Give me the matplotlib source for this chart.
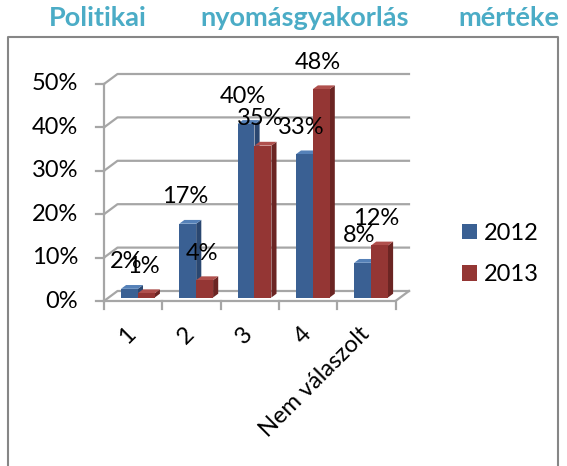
import matplotlib.pyplot as plt
from matplotlib.patches import Polygon, Rectangle

categories = ['1', '2', '3', '4', 'Nem válaszolt']
values_2012 = [2, 17, 40, 33, 8]
values_2013 = [1, 4, 35, 48, 12]
series_names = ['2012', '2013']
yticks = [0, 10, 20, 30, 40, 50]

plt.rcParams['font.family'] = ['Lato', 'DejaVu Sans']

# pixel scale of the fake 3d chart (x: px per category, y: px per percent)
PX_X = 58.3
PX_Y = 4.34
X0 = 104
Y0 = 165
DX = 13.5 / PX_X   # depth offset of back wall
DY = 10.0 / PX_Y

grid_col = '#a6a6a6'
faces = [
    {'front': '#3a6093', 'top': '#5581b8', 'side': '#2a4770'},
    {'front': '#943634', 'top': '#b0504d', 'side': '#6b2523'},
]

fig = plt.figure(figsize=(5.67, 4.66), dpi=100)
ax = fig.add_axes([0, 0, 1, 1])
ax.set_xlim(-X0 / PX_X, (567 - X0) / PX_X)
ax.set_ylim(-Y0 / PX_Y, (466 - Y0) / PX_Y)
ax.axis('off')

# back wall gridlines + front axis
for t in yticks:
    ax.plot([0, DX, len(categories) + DX], [t, t + DY, t + DY], color=grid_col, lw=1.6, zorder=1)
    ax.plot([-8 / PX_X, 0], [t, t], color=grid_col, lw=1.6, zorder=1)
    ax.text(-26 / PX_X, t, f'{t}%', ha='right', va='center', fontsize=17)
ax.plot([0, 0], [0, yticks[-1]], color=grid_col, lw=1.6, zorder=1)

# floor
n = len(categories)
ax.plot([0, n, n + DX], [0, 0, DY], color=grid_col, lw=1.6, zorder=1)
for i in range(n + 1):
    ax.plot([i, i], [0, -8 / PX_Y], color=grid_col, lw=1.6, zorder=1)
for i, cat in enumerate(categories):
    ax.text(i + 0.5 - 8 / PX_X, -22 / PX_Y, cat, rotation=45, ha='right', va='top',
            rotation_mode='anchor', fontsize=17)

# bars
f0 = 0.35
depth = 0.38
w = 0.29
handles = []
for j, vals in enumerate([values_2012, values_2013]):
    c = faces[j]
    for i, v in enumerate(vals):
        x0 = i + 0.21 + j * w + f0 * DX
        b = f0 * DY
        ddx, ddy = depth * DX, depth * DY
        front = Rectangle((x0, b), w, v, facecolor=c['front'], edgecolor='none', zorder=3 + j)
        top = Polygon([(x0, b + v), (x0 + w, b + v), (x0 + w + ddx, b + v + ddy), (x0 + ddx, b + v + ddy)],
                      closed=True, facecolor=c['top'], edgecolor='none', zorder=3 + j)
        side = Polygon([(x0 + w, b), (x0 + w + ddx, b + ddy), (x0 + w + ddx, b + v + ddy), (x0 + w, b + v)],
                       closed=True, facecolor=c['side'], edgecolor='none', zorder=3 + j)
        ax.add_patch(side)
        ax.add_patch(top)
        ax.add_patch(front)
        ax.text(x0 + w / 2 - 3 / PX_X, b + v + 27 / PX_Y, f'{v}%', ha='center', va='center',
                fontsize=17, zorder=10)
    handles.append(Rectangle((0, 0), 1, 1, facecolor=c['front'], label=series_names[j]))

ax.legend(handles=handles, loc='center left', bbox_to_anchor=(462 / 567, 212 / 466),
          frameon=False, fontsize=17, handlelength=0.64, handleheight=0.64,
          handletextpad=0.3, labelspacing=0.85, borderpad=0, borderaxespad=0)

# outer border (open at the bottom)
ax.plot([8 / 567, 8 / 567, 558 / 567, 558 / 567], [0, (466 - 37) / 466, (466 - 37) / 466, 0],
        transform=ax.transAxes, color='#868686', lw=1.5, clip_on=False)

# title spread over the top
title_col = '#4bacc6'
ty = (466 - 18) / 466
ax.text(49 / 567, ty, 'Politikai', transform=ax.transAxes, ha='left', va='center',
        fontsize=19.5, fontweight='bold', color=title_col)
ax.text(305 / 567, ty, 'nyomásgyakorlás', transform=ax.transAxes, ha='center', va='center',
        fontsize=19.5, fontweight='bold', color=title_col)
ax.text(559 / 567, ty, 'mértéke', transform=ax.transAxes, ha='right', va='center',
        fontsize=19.5, fontweight='bold', color=title_col)

plt.savefig('out.png', dpi=100)
